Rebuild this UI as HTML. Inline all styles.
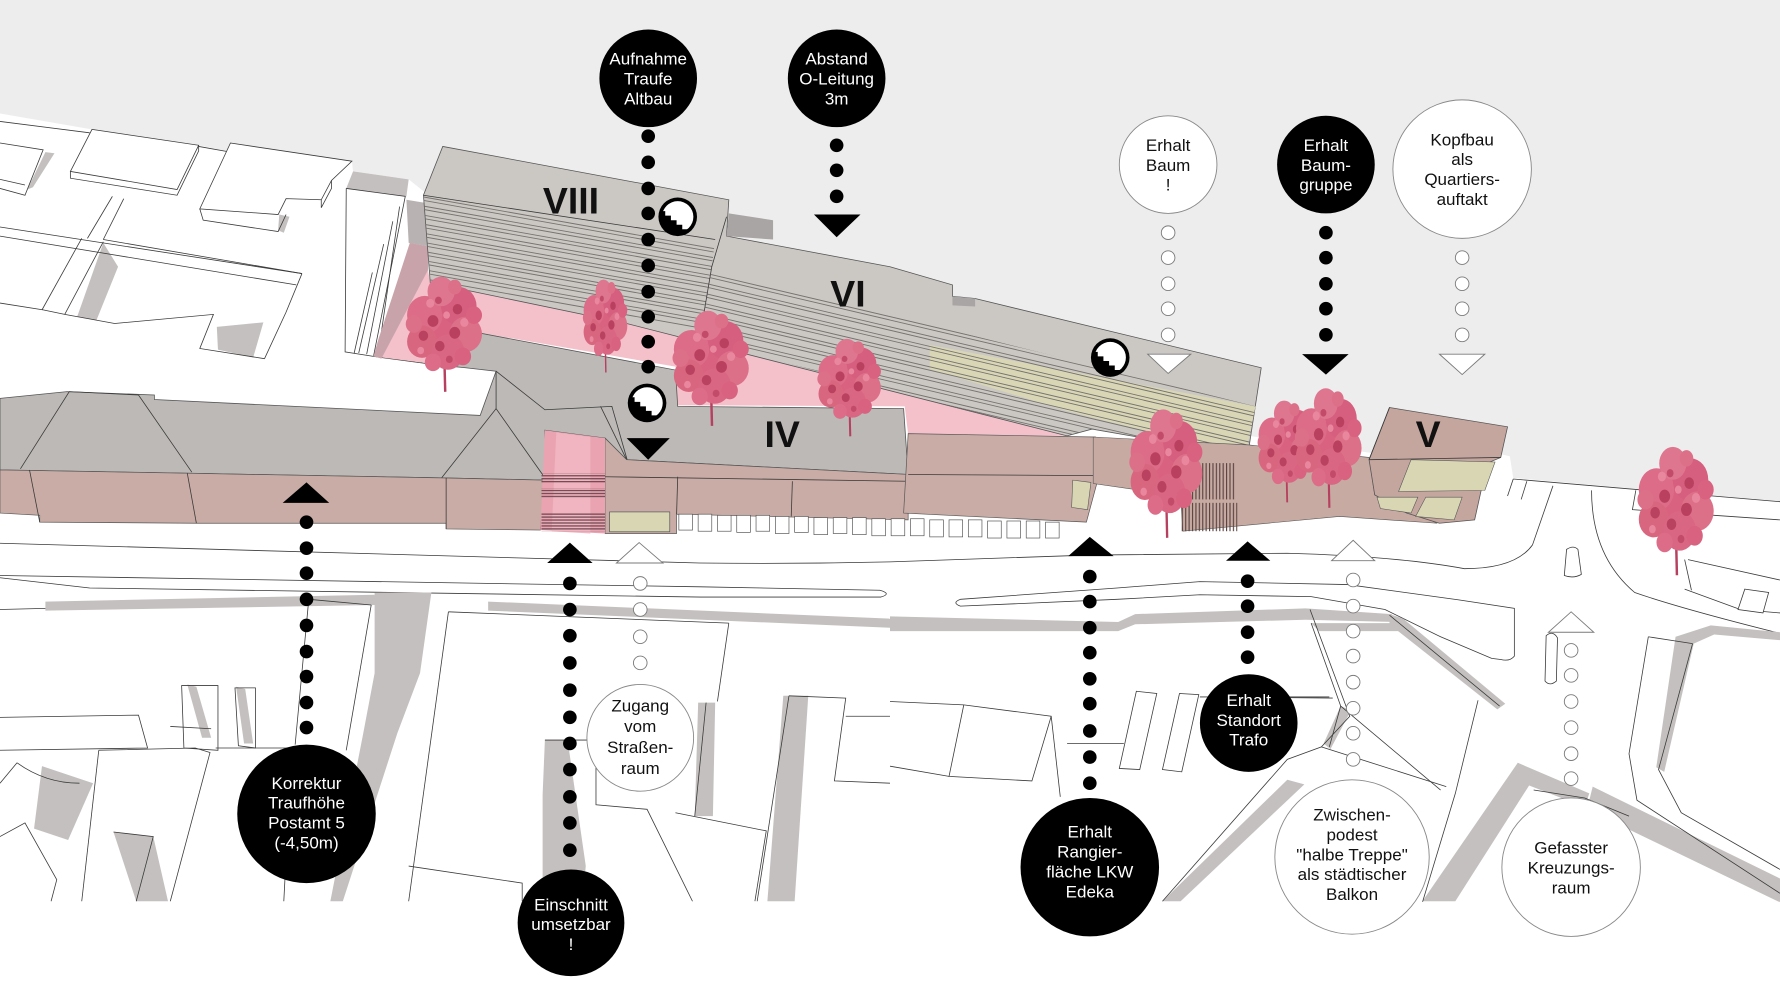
<!DOCTYPE html>
<html><head><meta charset="utf-8">
<style>
html,body{margin:0;padding:0;background:#fff;}
svg{display:block;}
text{font-family:"Liberation Sans",Arial,sans-serif;}
.lbl{font-size:15px;text-anchor:middle;}
.wt{fill:#fff;}
.bk{fill:#111;}
.num{font-family:"Liberation Sans",Arial,sans-serif;font-weight:bold;font-size:33px;text-anchor:middle;fill:#111;}
.ol{fill:none;stroke:#3a3a3a;stroke-width:0.7;}
.olw{fill:#fff;stroke:#3a3a3a;stroke-width:0.7;}
.sh{fill:#c4c0bf;}
.hd{fill:#fff;stroke:#7a7a7a;stroke-width:0.8;}
</style></head>
<body>
<svg width="1780" height="1000" viewBox="0 0 1568 881" preserveAspectRatio="none" xmlns="http://www.w3.org/2000/svg">
<defs>
  <clipPath id="c8"><polygon points="373,172 630,211 627,235 616,300 379,249"/></clipPath>
  <clipPath id="c6"><polygon points="616,300 627,238 1106,358 1099,402 962,378 940,384"/></clipPath>
  <clipPath id="ic"><circle cx="0" cy="0" r="13.8"/></clipPath>
  <pattern id="stp" width="6" height="2.6" patternUnits="userSpaceOnUse">
    <rect width="6" height="1.1" fill="#6e4850"/>
  </pattern>
  <pattern id="vst" width="3" height="6" patternUnits="userSpaceOnUse">
    <rect width="1" height="6" fill="#5a4440"/>
  </pattern>
  <g id="tree">
    <line x1="0" y1="8" x2="1" y2="44" stroke="#b5405f" stroke-width="1.8"/>
    <circle cx="0" cy="0" r="21" fill="#d8627f"/>
    <circle cx="-14" cy="-8" r="13" fill="#dc6c88"/>
    <circle cx="11" cy="-14" r="13" fill="#d65e7e"/>
    <circle cx="16" cy="5" r="12" fill="#dd7089"/>
    <circle cx="-16" cy="10" r="11" fill="#d9667f"/>
    <circle cx="-2" cy="-24" r="10" fill="#de7690"/>
    <circle cx="3" cy="17" r="12" fill="#d96682"/>
    <circle cx="-22" cy="-2" r="6" fill="#dd7089"/>
    <circle cx="22" cy="-8" r="6" fill="#d8627f"/>
    <circle cx="-8" cy="24" r="6" fill="#dc6c88"/>
    <circle cx="14" cy="20" r="6" fill="#d8627f"/>
    <circle cx="8" cy="-27" r="5" fill="#dd7089"/>
    <circle cx="-8" cy="-4" r="4" fill="#b9405f"/>
    <circle cx="8" cy="4" r="4" fill="#b9405f"/>
    <circle cx="-3" cy="13" r="3.5" fill="#b8425f"/>
    <circle cx="10" cy="-12" r="3.5" fill="#b9405f"/>
    <circle cx="-15" cy="6" r="3.5" fill="#b8425f"/>
    <circle cx="-10" cy="-16" r="3" fill="#e9879f"/>
    <circle cx="15" cy="-3" r="3" fill="#e9879f"/>
    <circle cx="2" cy="-8" r="2.5" fill="#e9879f"/>
    <circle cx="-17" cy="16" r="2.5" fill="#e9879f"/>
    <circle cx="4" cy="22" r="2.5" fill="#c24b69"/>
    <circle cx="-4" cy="-18" r="2.5" fill="#c24b69"/>
  </g>
  <g id="stair">
    <circle cx="0" cy="0" r="17" fill="#000"/>
    <polygon clip-path="url(#ic)" fill="#fff" points="-20,-20 20,-20 20,20 9,20 9,11 4,11 4,7 -1,7 -1,3 -6,3 -6,-1 -11,-1 -11,-5 -20,-5"/>
  </g>
</defs>

<!-- sky -->
<rect width="1568" height="881" fill="#eeeded"/>
<!-- ground -->
<polygon fill="#fff" points="0,100 81,114 175,128 203,134 203,126 310,142 311,151 360,158 385,178 640,240 1100,384 1215,400 1230,380 1330,402 1333,421 1568,442 1568,881 0,881"/>

<!-- upper-left white buildings -->
<g>
<polygon class="sh" points="40,134 48,135 29,165 24,167"/>
<polygon class="sh" points="91,214 104,235 85,282 68,279"/>
<polygon class="sh" points="191,288 232,284 223,315 192,308"/>
<polygon class="sh" points="311,151 360,158 358,173 305,166"/>
<polygon class="sh" points="246,189 255,191 250,205 245,203"/>
<polyline class="ol" points="0,107 79,117"/>
<polyline class="ol" points="0,126 38,132 22,172 0,166"/>
<polyline class="ol" points="0,158 22,163"/>
<polygon class="olw" points="81,114 175,128 156,167 62,151"/>
<polyline class="ol" points="62,151 62,157 156,172 175,133 175,128"/>
<polyline class="ol" points="175,129 203,134"/>
<polygon class="olw" points="203,126 310,142 292,159 283,176 252,175 245,189 176,184"/>
<polyline class="ol" points="176,184 179,194 245,204 252,189"/>
<polyline class="ol" points="283,176 283,183 292,166 292,159"/>
<polyline class="ol" points="0,200 266,241"/>
<polyline class="ol" points="0,208 261,251"/>
<polyline class="ol" points="91,211 266,241"/>
<polyline class="ol" points="72,210 37,273"/>
<polyline class="ol" points="91,213 57,277"/>
<polyline class="ol" points="99,173 77,210"/>
<polyline class="ol" points="109,175 91,211"/>
<polyline class="ol" points="0,267 38,273 57,277 101,285 188,277 176,307 233,316"/>
<polyline class="ol" points="266,241 252,275 233,316"/>
<!-- tall building -->
<polyline class="ol" points="305,166 357,173 329,314"/>
<polyline class="ol" points="305,166 304,310 329,314 396,323"/>
<polyline class="ol" points="352,182 333,313"/>
<polyline class="ol" points="346,195 323,312"/>
<polyline class="ol" points="338,215 316,311"/>
<polyline class="ol" points="328,240 312,311"/>
</g>

<!-- shadows near tall building -->
<polygon fill="#b8b3b2" points="358,176 376,179 377,217 360,214"/>
<!-- pink courtyard -->
<polygon fill="#f4c1cb" points="377,238 379,249 552,285 940,384 800,383 797,358 597,357 595,323 410,291 400,323 329,314"/>
<polygon fill="#c8a4aa" points="361,214 377,217 377,238 336,316 329,314 333,300"/>

<!-- terrace block VIII / VI -->
<polygon fill="#cbc8c4" stroke="#555" stroke-width="0.7" points="390,129 642,176 640,208 784,235 839,251 839,261 859,263 1111,324 1099,402 962,378 940,384 552,285 379,249 373,172"/>
<polygon fill="#a9a5a4" points="642,188 681,194 681,211 640,208"/>
<polygon fill="#a9a5a4" points="839,261 859,263 859,270 839,269"/>
<polygon fill="#d9d6b6" points="819,304 1106,358 1097,401 963,368 940,362 819,325"/>
<g clip-path="url(#c8)" stroke="#76726f" stroke-width="0.8" fill="none">
<path d="M370,173 L640,221 M370,176 L640,224 M370,181 L640,229 M370,184 L640,232 M370,189 L640,237 M370,192 L640,240 M370,197 L640,245 M370,200 L640,248 M370,205 L640,253 M370,208 L640,256 M370,213 L640,261 M370,216 L640,264 M370,221 L640,269 M370,224 L640,272 M370,229 L640,277 M370,232 L640,280 M370,237 L640,285 M370,240 L640,288 M370,245 L640,293"/>
</g>
<g clip-path="url(#c6)" stroke="#76726f" stroke-width="0.8" fill="none">
<path d="M610,238 L1120,358 M610,241 L1120,361 M610,247 L1120,367 M610,250 L1120,370 M610,256 L1120,376 M610,259 L1120,379 M610,265 L1120,385 M610,268 L1120,388 M610,274 L1120,394 M610,277 L1120,397 M610,283 L1120,403 M610,286 L1120,406 M610,292 L1120,412 M610,295 L1120,415 M610,301 L1120,421 M610,304 L1120,424 M610,310 L1120,430"/>
</g>
<polyline class="ol" points="640,191 627,235 616,300"/>
<polyline class="ol" points="373,172 630,211"/>

<!-- Altbau roofs + gray block + IV -->
<polygon fill="#bcb9b6" stroke="#555" stroke-width="0.7" points="0,351 59,345 136,348 136,352 423,366 437,327 410,324 400,323 410,291 595,326 597,358 796,360 800,418 552,405 533,386 480,379 480,423 389,421 169,417 0,414"/>
<polyline class="ol" points="18,413 61,345 122,348 169,416"/>
<polyline class="ol" points="389,421 437,360 480,421"/>
<polyline class="ol" points="437,327 437,360"/>
<polyline class="ol" points="437,327 480,361 539,358 555,414 617,415"/>
<polyline class="ol" points="529,358 552,405"/>
<!-- facades -->
<polygon fill="#c9aca5" stroke="#555" stroke-width="0.6" points="0,414 169,417 389,421 480,423 476,467 393,466 393,461 173,461 35,460 35,454 0,452"/>
<polyline class="ol" points="26,414 35,460"/>
<polyline class="ol" points="165,417 173,461"/>
<polyline class="ol" points="393,421 393,466"/>
<polygon fill="#c9aca5" stroke="#555" stroke-width="0.6" points="533,386 552,405 800,418 800,458 596,453 596,470 533,470"/>
<polyline class="ol" points="533,420 800,424"/>
<polyline class="ol" points="597,420 596,453"/>
<polyline class="ol" points="698,424 697,455"/>
<rect x="537" y="451" width="53" height="17.5" fill="#d9d6b4" stroke="#555" stroke-width="0.6"/>
<polygon fill="#eaa4b1" points="480,379 533,386 533,470 476,467"/>
<polygon fill="#f0b5c0" points="490,381 520,385 520,470 486,468"/>
<rect x="477" y="417" width="56" height="9" fill="url(#stp)"/>
<rect x="477" y="430" width="56" height="9" fill="url(#stp)"/>
<rect x="477" y="452" width="56" height="16" fill="url(#stp)"/>
<polygon fill="#c9aca5" stroke="#555" stroke-width="0.6" points="800,382 965,385 967,423 957,460 796,452"/>
<polyline class="ol" points="800,418 965,419"/>
<polygon fill="#d9d6b4" stroke="#555" stroke-width="0.5" points="945,423 961,425 958,449 944,447"/>
<!-- pilotis -->
<g fill="#fff" stroke="#555" stroke-width="0.6">
<rect x="598" y="453" width="12" height="14"/><rect x="615" y="453" width="12" height="15"/><rect x="632" y="454" width="12" height="14"/><rect x="649" y="454" width="12" height="15"/><rect x="666" y="454" width="12" height="14"/><rect x="683" y="455" width="12" height="15"/><rect x="700" y="455" width="12" height="14"/><rect x="717" y="456" width="12" height="15"/><rect x="734" y="456" width="12" height="14"/><rect x="751" y="456" width="12" height="15"/><rect x="768" y="457" width="12" height="15"/><rect x="785" y="457" width="12" height="15"/><rect x="802" y="457" width="12" height="15"/><rect x="819" y="458" width="12" height="15"/><rect x="836" y="458" width="12" height="15"/><rect x="853" y="458" width="12" height="15"/><rect x="870" y="459" width="12" height="15"/><rect x="887" y="459" width="12" height="15"/><rect x="904" y="459" width="12" height="15"/><rect x="921" y="460" width="12" height="14"/>
</g>
<!-- plaza -->
<polygon fill="#c7aaa2" stroke="#555" stroke-width="0.5" points="963,385 1100,392 1206,403 1211,436 1266,461 1180,455 1042,468 1040,437 963,426"/>
<rect x="1048" y="408" width="40" height="32" fill="url(#vst)"/>
<rect x="1040" y="443" width="50" height="25" fill="url(#vst)"/>
<!-- V building -->
<polygon fill="#c4a69e" stroke="#555" stroke-width="0.7" points="1224,359 1328,376 1322,403 1310,408 1303,440 1299,458 1268,461 1239,452 1211,436 1206,405"/>
<polyline class="ol" points="1206,405 1322,403"/>
<polyline class="ol" points="1224,359 1206,405"/>
<polygon fill="#d9d6b4" stroke="#555" stroke-width="0.5" points="1243,405 1317,407 1308,432 1232,433"/>
<polygon fill="#d9d6b4" stroke="#555" stroke-width="0.5" points="1213,438 1249,438 1243,452 1216,448"/>
<polygon fill="#d9d6b4" stroke="#555" stroke-width="0.5" points="1256,438 1288,438 1281,458 1247,455"/>

<!-- right-side white buildings upper -->
<polyline class="ol" points="1333,422 1568,442"/>
<polyline class="ol" points="1333,422 1328,437"/>
<polyline class="ol" points="1345,424 1340,440"/>
<polyline class="ol" points="1441,432 1438,449 1568,458"/>
<polyline class="ol" points="1487,493 1568,511"/>
<polyline class="ol" points="1484,519 1533,537 1568,540"/>
<polyline class="ol" points="1484,493 1490,520"/>
<polygon class="olw" points="1537,519 1558,522 1553,540 1531,537"/>

<!-- trees -->
<use href="#tree" transform="translate(391,288) scale(1.2,1.3)"/>
<use href="#tree" transform="translate(533,282) scale(0.7,1.05)"/>
<use href="#tree" transform="translate(626,318) scale(1.2,1.3)"/>
<use href="#tree" transform="translate(748,336) scale(1.0,1.1)"/>
<use href="#tree" transform="translate(1027,410) scale(1.15,1.45)"/>
<use href="#tree" transform="translate(1133,392) scale(0.9,1.15)"/>
<use href="#tree" transform="translate(1170,388) scale(1.05,1.35)"/>
<use href="#tree" transform="translate(1476,443) scale(1.2,1.45)"/>

<!-- road and islands -->
<path class="ol" d="M0,478.6 L616,496 Q700,497 784,495 L959,489 L1134,487.4 Q1230,490 1290,501 Q1335,501 1350,480 L1368,428"/>
<path class="ol" d="M0,507 L617,517 L775,520 Q786,523 776,526 L617,526 L79,518 L0,509"/>
<path class="ol" d="M1057,512.4 L1187,515 L1285,528.5 L1334,536 L1334,578 Q1330,583 1322,581 L1314,580 L1269,561 L1220,537 L1155,525.6 L1057,524 L984,528 L846,534 Q838,531 846,528 L984,518 Z"/>
<path class="ol" d="M1402,432 Q1402,490 1440,522 Q1480,536 1568,558"/>
<path class="ol" d="M1380,484 Q1386,480 1390,484 L1393,506 Q1386,510 1378,507 Z"/>
<path class="ol" d="M1362,560 Q1368,555 1372,562 L1371,600 Q1365,605 1361,600 Z"/>

<!-- lower shadows -->
<polygon class="sh" points="40,530 330,524 332,533 40,538"/>
<polygon class="sh" points="330,522 380,522 370,593 350,646 302,794 291,794 320,646 330,593"/>
<polygon class="sh" points="430,530 784,545 784,553 430,538"/>
<polygon class="sh" points="784,543 985,548 1000,541 1150,536 1226,541 1230,548 1150,546 1000,550 985,556 784,556"/>
<polygon class="sh" points="1224,541 1236,545 1326,620 1319,625 1224,550"/>
<polygon class="sh" points="480,652 500,652 516,763 513,794 478,794 478,700"/>
<polygon class="sh" points="615,619 630,619 628,719 612,719"/>
<polygon class="sh" points="690,613 712,613 700,794 676,794"/>
<polygon class="sh" points="1024,794 1134,687 1149,691 1040,794"/>
<polygon class="sh" points="1253,794 1337,672 1354,681 1282,794"/>
<polygon class="sh" points="1337,672 1400,699 1396,711 1347,692"/>
<polygon class="sh" points="1403,693 1568,774 1568,795 1398,713"/>
<polygon class="sh" points="1476,561 1507,551 1568,557 1568,564 1510,559 1492,567 1466,680 1459,676"/>
<polygon class="sh" points="165,603 173,605 186,650 178,650"/>
<polygon class="sh" points="208,605 216,607 223,655 215,655"/>
<polygon class="sh" points="100,733 135,737 148,794 120,794"/>
<polygon class="sh" points="37,675 82,690 60,740 30,730"/>
<polygon class="sh" points="1155,549 1226,549 1233,556 1162,556"/>
<polygon class="sh" points="1181,622 1190,626 1172,660 1166,655"/>

<!-- lower building outlines -->
<g>
<polyline class="ol" points="0,537 40,536"/>
<polyline class="ol" points="272,528 327,533"/>
<polyline class="ol" points="272,528 260,656"/>
<polyline class="ol" points="327,533 305,661"/>
<polyline class="ol" points="395,539 642,549"/>
<polyline class="ol" points="395,539 360,794"/>
<polyline class="ol" points="642,549 632,618"/>
<polygon class="ol" points="160,604 192,604 192,661 162,659"/>
<polygon class="ol" points="207,606 225,606 225,659 210,657"/>
<polyline class="ol" points="0,632 122,630 130,659 0,661"/>
<polyline class="ol" points="150,640 186,642"/>
<polyline class="ol" points="87,661 172,659 185,663 150,794"/>
<polyline class="ol" points="87,661 72,794"/>
<polyline class="ol" points="190,659 257,659 250,794"/>
<polyline class="ol" points="100,733 135,737 120,794"/>
<path class="ol" d="M15,672 Q40,690 70,690"/>
<polyline class="ol" points="0,737 22,725 50,775 45,794"/>
<polyline class="ol" points="0,690 15,672"/>
<polyline class="ol" points="480,652 525,652 525,709 570,713 610,794"/>
<polyline class="ol" points="360,763 460,778 460,794"/>
<polyline class="ol" points="595,716 675,732 665,794"/>
<polyline class="ol" points="622,619 612,719"/>
<polyline class="ol" points="695,613 745,615 735,688 784,690"/>
<polyline class="ol" points="695,613 667,794"/>
<polyline class="ol" points="745,631 784,631"/>
<polyline class="ol" points="784,618 849,621 926,631 934,702"/>
<polyline class="ol" points="849,621 836,684 909,688 926,631"/>
<polyline class="ol" points="784,675 836,684"/>
<polygon class="ol" points="1001,609 1019,611 1004,678 986,677"/>
<polygon class="ol" points="1039,611 1056,612 1041,680 1024,678"/>
<polyline class="ol" points="940,655 990,655"/>
<polyline class="ol" points="1064,614 1174,615"/>
<polyline class="ol" points="1154,537 1189,631 1164,658 1134,669 1024,794"/>
<polyline class="ol" points="1224,542 1321,622"/>
<polyline class="ol" points="1155,549 1181,622 1171,658"/>
<polyline class="ol" points="1181,622 1269,696"/>
<polyline class="ol" points="1057,614 1171,614"/>
<polyline class="ol" points="1302,617 1282,699 1253,795"/>
<polyline class="ol" points="1164,658 1274,693"/>
<polyline class="ol" points="1351,696 1396,703 1435,719"/>
<polyline class="ol" points="1452,561 1435,664 1442,705 1568,787"/>
<polyline class="ol" points="1491,567 1461,678 1481,716 1568,766"/>
<polyline class="ol" points="1452,561 1491,567"/>
</g>

<!-- bottom white band -->
<rect x="0" y="794.5" width="1568" height="87" fill="#fff"/>

<!-- Roman numerals -->
<text class="num" x="503" y="188">VIII</text>
<text class="num" x="747" y="270">VI</text>
<text class="num" x="689" y="394">IV</text>
<text class="num" x="1258" y="394">V</text>

<!-- stair icons -->
<use href="#stair" transform="translate(597,191)"/>
<use href="#stair" transform="translate(570,355)"/>
<use href="#stair" transform="translate(978,315)"/>

<!-- connectors -->
<g fill="#000">
<circle cx="571" cy="120" r="6"/><circle cx="571" cy="143" r="6"/><circle cx="571" cy="166" r="6"/><circle cx="571" cy="188" r="6"/><circle cx="571" cy="211" r="6"/><circle cx="571" cy="234" r="6"/><circle cx="571" cy="257" r="6"/><circle cx="571" cy="279" r="6"/><circle cx="571" cy="301" r="6"/><circle cx="571" cy="323" r="6"/>
<polygon points="552,386 590,386 571,405"/>
<circle cx="737" cy="128" r="6"/><circle cx="737" cy="150" r="6"/><circle cx="737" cy="173" r="6"/>
<polygon points="717,189 758,189 737,209"/>
<circle cx="1168" cy="205" r="6"/><circle cx="1168" cy="227" r="6"/><circle cx="1168" cy="250" r="6"/><circle cx="1168" cy="272" r="6"/><circle cx="1168" cy="295" r="6"/>
<polygon points="1147,312 1188,312 1168,330"/>
<polygon points="249,443 290,443 270,425"/>
<circle cx="270" cy="460" r="6"/><circle cx="270" cy="483" r="6"/><circle cx="270" cy="505" r="6"/><circle cx="270" cy="528" r="6"/><circle cx="270" cy="551" r="6"/><circle cx="270" cy="574" r="6"/><circle cx="270" cy="596" r="6"/><circle cx="270" cy="619" r="6"/><circle cx="270" cy="641" r="6"/>
<polygon points="482,496 522,496 502,478"/>
<circle cx="502" cy="514" r="6"/><circle cx="502" cy="537" r="6"/><circle cx="502" cy="560" r="6"/><circle cx="502" cy="584" r="6"/><circle cx="502" cy="608" r="6"/><circle cx="502" cy="632" r="6"/><circle cx="502" cy="655" r="6"/><circle cx="502" cy="678" r="6"/><circle cx="502" cy="702" r="6"/><circle cx="502" cy="725" r="6"/><circle cx="502" cy="749" r="6"/>
<polygon points="941,490 981,490 960,473"/>
<circle cx="960" cy="508" r="6"/><circle cx="960" cy="530" r="6"/><circle cx="960" cy="553" r="6"/><circle cx="960" cy="575" r="6"/><circle cx="960" cy="598" r="6"/><circle cx="960" cy="620" r="6"/><circle cx="960" cy="644" r="6"/><circle cx="960" cy="667" r="6"/><circle cx="960" cy="690" r="6"/>
<polygon points="1080,494 1119,494 1099,477"/>
<circle cx="1099" cy="512" r="6"/><circle cx="1099" cy="534" r="6"/><circle cx="1099" cy="557" r="6"/><circle cx="1099" cy="579" r="6"/>
</g>
<g>
<circle class="hd" cx="1029" cy="205" r="6"/><circle class="hd" cx="1029" cy="227" r="6"/><circle class="hd" cx="1029" cy="250" r="6"/><circle class="hd" cx="1029" cy="272" r="6"/><circle class="hd" cx="1029" cy="295" r="6"/>
<polygon class="hd" points="1011,312 1049,312 1029,329"/>
<circle class="hd" cx="1288" cy="227" r="6"/><circle class="hd" cx="1288" cy="250" r="6"/><circle class="hd" cx="1288" cy="272" r="6"/><circle class="hd" cx="1288" cy="295" r="6"/>
<polygon class="hd" points="1268,312 1308,312 1288,330"/>
<polygon class="hd" points="543,496 584,496 563,478"/>
<circle class="hd" cx="564" cy="514" r="6"/><circle class="hd" cx="564" cy="537" r="6"/><circle class="hd" cx="564" cy="561" r="6"/><circle class="hd" cx="564" cy="584" r="6"/>
<polygon class="hd" points="1173,494 1211,494 1192,476"/>
<circle class="hd" cx="1192" cy="511" r="6"/><circle class="hd" cx="1192" cy="534" r="6"/><circle class="hd" cx="1192" cy="556" r="6"/><circle class="hd" cx="1192" cy="578" r="6"/><circle class="hd" cx="1192" cy="601" r="6"/><circle class="hd" cx="1192" cy="624" r="6"/><circle class="hd" cx="1192" cy="646" r="6"/><circle class="hd" cx="1192" cy="669" r="6"/>
<polygon class="hd" points="1364,557 1404,557 1384,539"/>
<circle class="hd" cx="1384" cy="573" r="6"/><circle class="hd" cx="1384" cy="595" r="6"/><circle class="hd" cx="1384" cy="618" r="6"/><circle class="hd" cx="1384" cy="641" r="6"/><circle class="hd" cx="1384" cy="664" r="6"/><circle class="hd" cx="1384" cy="686" r="6"/>
</g>

<!-- label circles -->
<circle cx="571" cy="69" r="43" fill="#000"/>
<text class="lbl wt" x="571" y="57">Aufnahme</text>
<text class="lbl wt" x="571" y="74.5">Traufe</text>
<text class="lbl wt" x="571" y="92">Altbau</text>

<circle cx="737" cy="69" r="43" fill="#000"/>
<text class="lbl wt" x="737" y="57">Abstand</text>
<text class="lbl wt" x="737" y="74.5">O-Leitung</text>
<text class="lbl wt" x="737" y="92">3m</text>

<circle cx="1029" cy="145" r="43" fill="#fff" stroke="#888" stroke-width="0.8"/>
<text class="lbl bk" x="1029" y="133">Erhalt</text>
<text class="lbl bk" x="1029" y="150.5">Baum</text>
<text class="lbl bk" x="1029" y="168">!</text>

<circle cx="1168" cy="145" r="43" fill="#000"/>
<text class="lbl wt" x="1168" y="133">Erhalt</text>
<text class="lbl wt" x="1168" y="150.5">Baum-</text>
<text class="lbl wt" x="1168" y="168">gruppe</text>

<circle cx="1288" cy="149" r="61" fill="#fff" stroke="#888" stroke-width="0.8"/>
<text class="lbl bk" x="1288" y="128">Kopfbau</text>
<text class="lbl bk" x="1288" y="145.5">als</text>
<text class="lbl bk" x="1288" y="163">Quartiers-</text>
<text class="lbl bk" x="1288" y="180.5">auftakt</text>

<circle cx="270" cy="717" r="61" fill="#000"/>
<text class="lbl wt" x="270" y="695">Korrektur</text>
<text class="lbl wt" x="270" y="712.5">Traufhöhe</text>
<text class="lbl wt" x="270" y="730">Postamt 5</text>
<text class="lbl wt" x="270" y="747.5">(-4,50m)</text>

<circle cx="503" cy="813" r="47" fill="#000"/>
<text class="lbl wt" x="503" y="802">Einschnitt</text>
<text class="lbl wt" x="503" y="819.5">umsetzbar</text>
<text class="lbl wt" x="503" y="837">!</text>

<circle cx="564" cy="650" r="47" fill="#fff" stroke="#888" stroke-width="0.8"/>
<text class="lbl bk" x="564" y="627">Zugang</text>
<text class="lbl bk" x="564" y="645">vom</text>
<text class="lbl bk" x="564" y="663.5">Straßen-</text>
<text class="lbl bk" x="564" y="682">raum</text>

<circle cx="960" cy="764" r="61" fill="#000"/>
<text class="lbl wt" x="960" y="738">Erhalt</text>
<text class="lbl wt" x="960" y="755.5">Rangier-</text>
<text class="lbl wt" x="960" y="773">fläche LKW</text>
<text class="lbl wt" x="960" y="790.5">Edeka</text>

<circle cx="1100" cy="637" r="43" fill="#000"/>
<text class="lbl wt" x="1100" y="622">Erhalt</text>
<text class="lbl wt" x="1100" y="639.5">Standort</text>
<text class="lbl wt" x="1100" y="657">Trafo</text>

<circle cx="1191" cy="755" r="68" fill="#fff" stroke="#888" stroke-width="0.8"/>
<text class="lbl bk" x="1191" y="723">Zwischen-</text>
<text class="lbl bk" x="1191" y="740.5">podest</text>
<text class="lbl bk" x="1191" y="758">"halbe Treppe"</text>
<text class="lbl bk" x="1191" y="775.5">als städtischer</text>
<text class="lbl bk" x="1191" y="793">Balkon</text>

<circle cx="1384" cy="764" r="61" fill="#fff" stroke="#888" stroke-width="0.8"/>
<text class="lbl bk" x="1384" y="752">Gefasster</text>
<text class="lbl bk" x="1384" y="769.5">Kreuzungs-</text>
<text class="lbl bk" x="1384" y="787">raum</text>
</svg>
</body></html>
